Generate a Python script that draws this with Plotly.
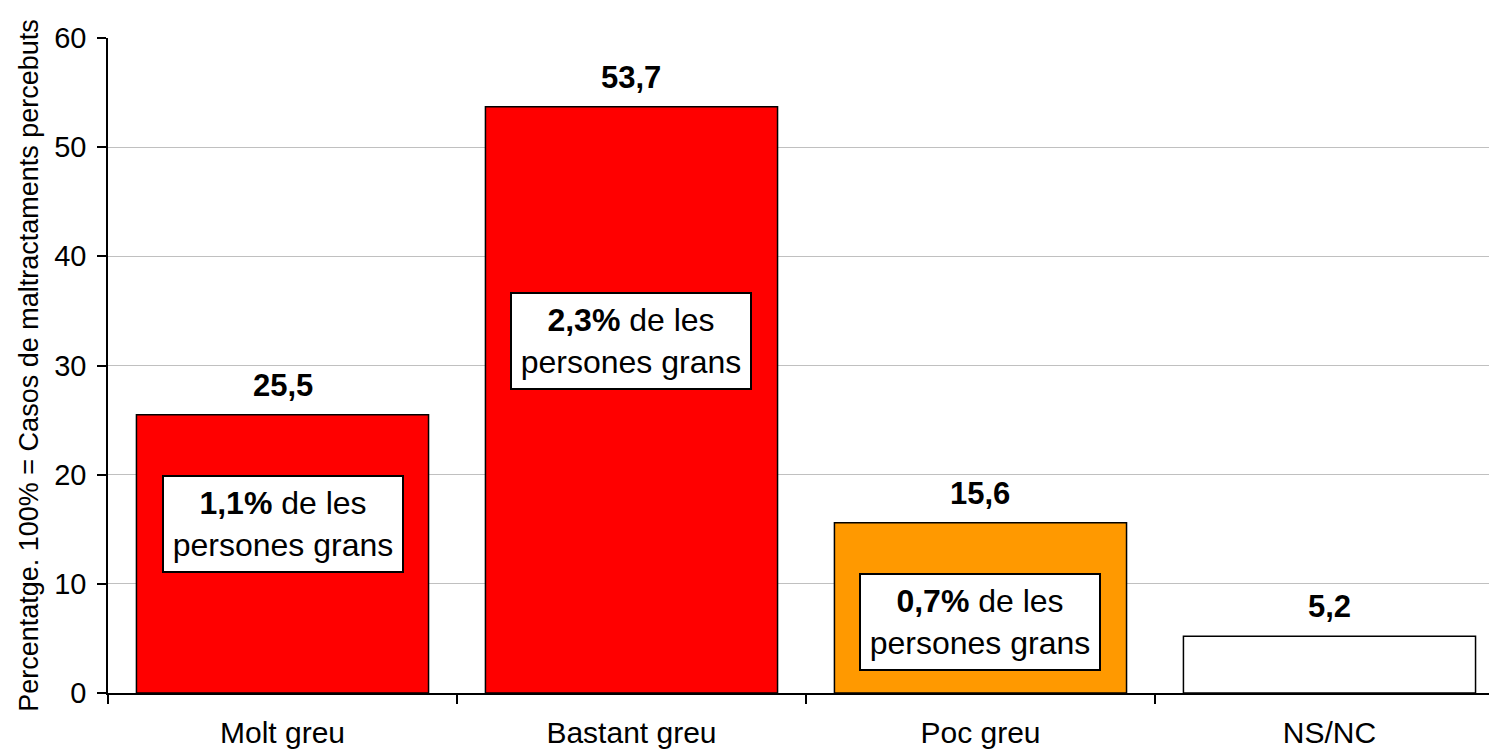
import plotly.graph_objects as go

categories = ["Molt greu", "Bastant greu", "Poc greu", "NS/NC"]
values = [25.5, 53.7, 15.6, 5.2]
value_labels = ["25,5", "53,7", "15,6", "5,2"]
bar_colors = ["#FF0000", "#FF0000", "#FF9900", "#FFFFFF"]
box_categories = ["Molt greu", "Bastant greu", "Poc greu"]
box_pcts = ["1,1%", "2,3%", "0,7%"]
y_ticks = [0, 10, 20, 30, 40, 50, 60]

FONT = "Liberation Sans, Arial, sans-serif"

fig = go.Figure()
fig.add_trace(go.Bar(
    x=categories, y=values,
    marker=dict(color=bar_colors, line=dict(color="#000000", width=1.5)),
    showlegend=False, hoverinfo="skip",
))

annotations = []
for c, v, t in zip(categories, values, value_labels):
    annotations.append(dict(
        x=c, y=v, xref="x", yref="y", text="<b>%s</b>" % t, showarrow=False,
        yanchor="bottom", yshift=10, font=dict(family=FONT, size=31, color="#000000"),
    ))

box_y = [15.5, 32.2, 6.55]
for c, p, by in zip(box_categories, box_pcts, box_y):
    annotations.append(dict(
        x=c, y=by, xref="x", yref="y",
        text="<b>%s</b> de les<br>persones grans" % p, showarrow=False,
        xanchor="center", yanchor="middle",
        font=dict(family=FONT, size=32, color="#000000"),
        bgcolor="#FFFFFF", bordercolor="#000000", borderwidth=2, borderpad=2,
        width=234, height=90, align="center",
    ))

fig.update_layout(
    width=1489, height=743,
    margin=dict(l=100, r=0, t=30, b=58, autoexpand=False),
    paper_bgcolor="#FFFFFF", plot_bgcolor="#FFFFFF",
    bargap=0.163,
    font=dict(family=FONT, color="#000000"),
    annotations=annotations,
    xaxis=dict(
        type="category", range=[-0.5, 3.48],
        showline=True, linecolor="#000000", linewidth=1.5,
        ticks="outside", tickson="boundaries", ticklen=9, tickcolor="#000000", tickwidth=1.5,
        showgrid=False, tickfont=dict(family=FONT, size=30, color="#000000"),
        ticklabelstandoff=12,
    ),
    yaxis=dict(
        range=[0, 60], tickvals=y_ticks, ticktext=[str(t) for t in y_ticks],
        showline=True, linecolor="#000000", linewidth=1.5,
        ticks="outside", ticklen=9, tickcolor="#000000", tickwidth=1.5,
        showgrid=True, gridcolor="#C0C0C0", gridwidth=1,
        zeroline=False,
        tickfont=dict(family=FONT, size=29, color="#000000"),
        ticklabelstandoff=5,
        title=dict(text="Percentatge. 100% = Casos de maltractaments percebuts",
                   font=dict(family=FONT, size=27, color="#000000"), standoff=8),
    ),
)

fig.write_html("out.html")
